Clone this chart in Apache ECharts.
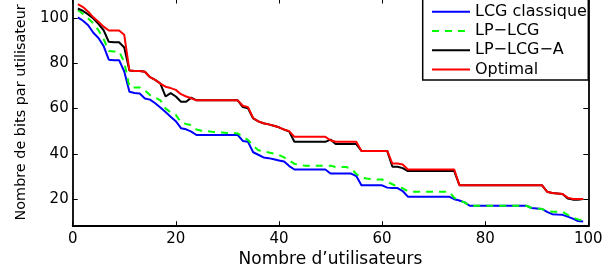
<!DOCTYPE html>
<html>
<head>
<meta charset="utf-8">
<script src="https://cdn.jsdelivr.net/npm/echarts@6/dist/echarts.min.js"></script>
<style>
html,body{margin:0;padding:0;background:#fff;}
#chart{width:616px;height:269px;}
</style>
</head>
<body>
<div id="chart"></div>
<script>
// Number of users (x)
var users = [1,2,3,4,5,6,7,8,9,10,11,12,13,14,15,16,17,18,19,20,
  21,22,23,24,25,26,27,28,29,30,31,32,33,34,35,36,37,38,39,40,
  41,42,43,44,45,46,47,48,49,50,51,52,53,54,55,56,57,58,59,60,
  61,62,63,64,65,66,67,68,69,70,71,72,73,74,75,76,77,78,79,80,
  81,82,83,84,85,86,87,88,89,90,91,92,93,94,95,96,97,98,99];

var lcgClassique = [100.2,98.7,96.7,93.4,91.1,87.5,81.5,81.3,81.3,76.3,
  67.4,66.8,66.6,64.4,63.9,62.3,60.4,58.4,56.4,54.4,
  51.3,50.8,49.8,48.3,48.3,48.3,48.3,48.3,48.3,48.3,
  48.3,48.3,45.7,45.3,40.7,39.6,38.4,38.1,37.6,37.1,
  36.6,34.6,33.1,33.1,33.1,33.1,33.1,33.1,33.1,31.3,
  31.3,31.3,31.3,31.3,30.2,26.1,26.1,26.1,26.1,26.1,
  25.1,24.9,24.9,23.6,21.1,21.1,21.1,21.1,21.1,21.1,
  21.1,21.1,21.1,20.0,19.4,18.6,17.1,17.1,17.1,17.1,
  17.1,17.1,17.1,17.1,17.1,17.1,17.1,17.1,16.1,15.9,
  15.7,14.4,13.4,13.2,13.1,12.3,11.4,10.4,10.2];

var lpLcg = [103.4,101.7,99.7,97.6,94.5,90.6,85.3,85.1,85.1,80.5,
  69.5,69.3,69.3,67.9,65.9,64.9,63.6,60.0,58.3,57.2,
  53.8,53.2,52.7,50.7,50.2,50.0,49.7,49.5,49.4,49.2,
  49.2,49.0,47.6,46.1,43.6,41.6,41.1,40.6,40.1,39.5,
  38.4,37.1,35.6,35.1,34.8,34.8,34.8,34.8,34.8,34.8,
  34.2,34.2,34.2,33.6,31.1,29.6,29.1,28.9,28.7,28.7,
  27.7,26.6,25.6,24.8,23.5,23.3,23.3,23.3,23.3,23.3,
  23.3,23.3,23.3,20.6,19.4,18.6,17.1,17.1,17.1,17.1,
  17.1,17.1,17.1,17.1,17.1,17.1,17.1,17.1,16.1,15.9,
  15.7,14.7,14.5,14.5,14.5,13.1,11.9,11.1,10.6];

var lpLcgA = [104.1,103.0,101.5,99.7,97.3,94.5,89.4,89.2,89.2,86.9,
  76.7,76.5,76.5,76.2,73.8,72.6,71.0,65.3,66.8,65.3,
  63.0,63.0,64.8,63.6,63.6,63.6,63.6,63.6,63.6,63.6,
  63.6,63.6,60.6,60.1,55.6,54.3,53.5,53.0,52.4,51.7,
  50.7,49.8,45.3,45.3,45.3,45.3,45.3,45.3,45.3,46.3,
  44.3,44.3,44.3,44.3,44.3,41.3,41.3,41.3,41.3,41.3,
  41.3,34.3,34.3,33.7,32.4,32.4,32.4,32.4,32.4,32.4,
  32.4,32.4,32.4,32.4,26.2,26.2,26.2,26.2,26.2,26.2,
  26.2,26.2,26.2,26.2,26.2,26.2,26.2,26.2,26.2,26.2,
  26.2,23.3,22.7,22.5,22.3,20.3,19.8,19.8,20.1];

var optimal = [106.0,104.7,102.7,100.2,98.2,96.1,94.4,94.4,94.4,92.5,
  76.7,76.5,76.5,76.2,73.8,72.6,71.0,69.6,69.0,68.2,
  66.3,65.3,64.5,63.6,63.6,63.6,63.6,63.6,63.6,63.6,
  63.6,63.6,61.2,60.6,55.8,54.3,53.5,53.0,52.4,51.7,
  50.7,50.0,47.5,47.5,47.5,47.5,47.5,47.5,47.5,46.0,
  45.3,45.3,45.3,45.3,45.3,41.3,41.3,41.3,41.3,41.3,
  41.3,35.7,35.7,35.3,33.1,33.1,33.1,33.1,33.1,33.1,
  33.1,33.1,33.1,33.1,26.2,26.2,26.2,26.2,26.2,26.2,
  26.2,26.2,26.2,26.2,26.2,26.2,26.2,26.2,26.2,26.2,
  26.2,23.3,22.7,22.5,22.3,20.7,20.1,20.1,20.1];

var yTicks = [20, 40, 60, 80, 100];
var xTicks = [0, 20, 40, 60, 80, 100];

var seriesNames = ['LCG classique', 'LP\u2212LCG', 'LP\u2212LCG\u2212A', 'Optimal'];
var seriesValues = [lcgClassique, lpLcg, lpLcgA, optimal];
var seriesColors = ['#0000ff', '#00ff00', '#000000', '#ff0000'];

function pairs(vals) {
  return vals.map(function (v, i) { return [users[i], v]; });
}

var FONT = 'DejaVu Sans';
var axisLineStyle = { color: '#000', width: 1.8 };
var tickStyle = { color: '#000', width: 1 };

var chart = echarts.init(document.getElementById('chart'), null, { renderer: 'canvas' });
chart.setOption({
  animation: false,
  backgroundColor: '#fff',
  grid: { left: 72.7, right: 27.7, top: -1.5, bottom: 42.8, containLabel: false, outerBoundsMode: 'none' },
  xAxis: [
    {
      type: 'value', min: xTicks[0], max: xTicks[xTicks.length - 1], interval: 20, position: 'bottom',
      axisLine: { onZero: false, lineStyle: axisLineStyle },
      axisTick: { inside: true, length: 5, lineStyle: tickStyle },
      axisLabel: { color: '#000', fontFamily: FONT, fontSize: 15, margin: 5 },
      splitLine: { show: false },
      name: 'Nombre d\u2019utilisateurs', nameLocation: 'middle', nameGap: 18,
      nameTextStyle: { color: '#000', fontFamily: FONT, fontSize: 17 }
    },
    {
      type: 'value', min: xTicks[0], max: xTicks[xTicks.length - 1], interval: 20, position: 'top',
      axisLine: { onZero: false, lineStyle: axisLineStyle },
      axisTick: { inside: true, length: 5, lineStyle: tickStyle },
      axisLabel: { show: false },
      splitLine: { show: false }
    }
  ],
  yAxis: [
    {
      type: 'value', min: 8.09, max: 108.5, position: 'left',
      axisLine: { onZero: false, lineStyle: axisLineStyle },
      axisTick: { inside: true, length: 5, lineStyle: tickStyle, customValues: yTicks },
      axisLabel: { color: '#000', fontFamily: FONT, fontSize: 15, margin: 4, customValues: yTicks },
      splitLine: { show: false },
      name: 'Nombre de bits par utilisateur', nameLocation: 'middle', nameGap: 44,
      nameTextStyle: { color: '#000', fontFamily: FONT, fontSize: 14.4 }
    },
    {
      type: 'value', min: 8.09, max: 108.5, position: 'right',
      axisLine: { onZero: false, lineStyle: axisLineStyle },
      axisTick: { inside: true, length: 5, lineStyle: tickStyle, customValues: yTicks },
      axisLabel: { show: false, customValues: yTicks },
      splitLine: { show: false }
    }
  ],
  legend: {
    orient: 'vertical', left: 431, top: 2, padding: 0, itemGap: 0,
    itemWidth: 38, itemHeight: 19.3,
    data: seriesNames,
    itemStyle: { opacity: 0 },
    textStyle: { color: '#000', fontFamily: FONT, fontSize: 16, lineHeight: 19.3 }
  },
  graphic: [
    {
      type: 'rect', z: 3,
      shape: { x: 422.7, y: -1, width: 165.6, height: 81 },
      style: { fill: '#fff', stroke: '#000', lineWidth: 1.5 }
    }
  ],
  series: seriesNames.map(function (name, i) {
    return {
      name: name, type: 'line', data: pairs(seriesValues[i]),
      xAxisIndex: 0, yAxisIndex: 0,
      symbol: 'none', showSymbol: false,
      itemStyle: { color: seriesColors[i] },
      lineStyle: { color: seriesColors[i], width: 2, type: i === 1 ? [7, 6] : 'solid' }
    };
  })
});
</script>
</body>
</html>
